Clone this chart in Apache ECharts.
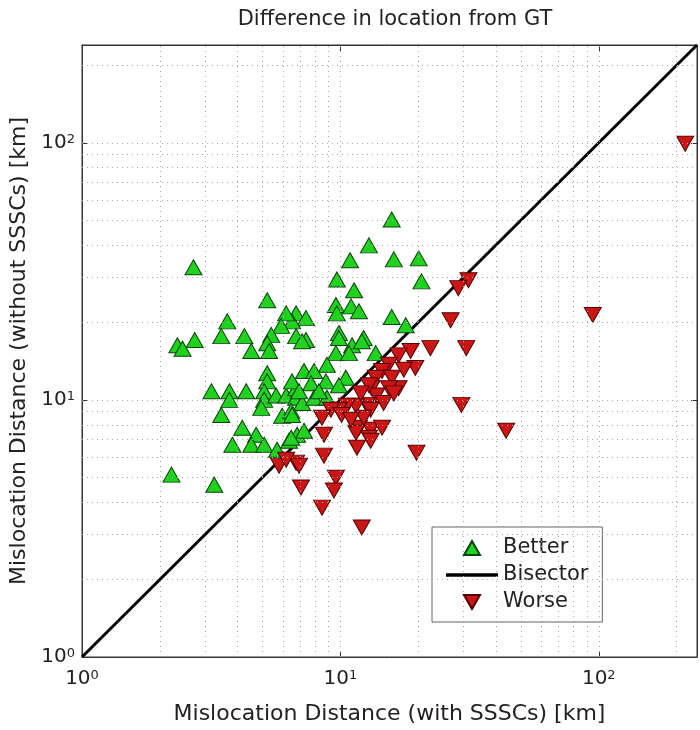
<!DOCTYPE html>
<html><head><meta charset="utf-8">
<script src="https://cdn.jsdelivr.net/npm/echarts@6/dist/echarts.min.js"></script>
<style>html,body{margin:0;padding:0;background:#fff}#c{width:700px;height:730px}</style>
</head><body><div id="c"></div>
<script>
// ---- data (km) ----
const betterX = [2.70,15.8,12.9,10.9,16.1,20.1,9.69,20.6,11.3,9.61,11.0,11.8,9.69,15.8,17.9,9.87,12.3,11.1,6.74,7.36,
  6.50,6.74,7.36,5.21,3.65,6.17,5.90,3.46,2.73,2.34,4.25,5.40,5.21,4.52,5.30,2.45,5.21,5.21,7.23,3.17,
  3.72,4.32,3.72,5.07,5.07,4.94,5.64,6.17,6.74,6.74,7.11,3.46,5.95,6.45,4.17,4.72,3.82,4.52,5.07,5.69,
  6.33,6.80,7.23,2.22,3.25,7.11,9.87,12.1,9.61,10.8,13.7,8.87,7.91,6.50,7.70,8.79,10.5,9.87,6.92,7.91,
  8.87,6.45,6.50,8.26];
const betterY = [32.8,50.3,39.9,34.9,35.2,35.5,29.4,28.9,26.7,23.4,23.1,22.1,21.7,21.0,19.5,18.2,17.4,16.3,21.7,20.8,
  20.2,17.7,17.1,24.4,20.2,21.7,19.4,17.7,17.1,16.3,17.7,17.9,16.6,15.5,15.5,15.8,12.7,11.8,12.95,10.8,
  10.8,10.8,10.0,10.8,10.0,9.31,10.4,10.4,11.1,10.2,9.73,8.74,8.67,9.06,7.79,7.32,6.69,6.69,6.69,6.40,
  6.94,7.32,7.58,5.12,4.68,16.9,17.4,16.9,15.2,15.2,15.2,13.7,12.95,11.8,11.6,11.8,12.2,11.4,10.8,10.2,
  10.2,7.12,8.74,10.8];
const worseX = [216,94.8,31.3,28.6,26.7,30.7,22.3,29.4,43.8,18.7,19.5,16.8,15.4,14.5,13.7,15.8,16.8,15.4,13.2,13.8,
  12.65,14.7,11.5,10.6,9.87,9.19,8.49,10.1,13.1,11.8,13.1,14.5,11.5,12.9,8.64,11.6,8.64,19.7,6.74,9.61,
  9.44,8.49,12.1,7.04,5.79,6.17,6.92,13.1,17.6,16.1,12.3,11.0,12.9,12.0];
const worseY = [99.1,21.4,29.2,27.2,20.4,15.9,15.9,9.56,7.58,15.5,13.3,14.9,13.7,12.95,12.2,12.2,11.1,11.1,11.1,10.4,
  9.56,9.73,9.48,9.48,9.15,9.15,8.52,8.74,9.15,7.79,7.65,7.79,7.45,7.12,7.32,6.51,6.07,6.23,5.70,4.98,
  4.44,3.81,3.19,4.56,5.55,5.85,5.55,6.94,13.1,10.6,8.52,8.37,11.4,10.6];
const bisectorX = [1, 240];
const bisectorY = [1, 240];
const axisMin = 1, axisMax = 240;
const gridValues = [2,3,4,5,6,7,8,9,10,20,30,40,50,60,70,80,90,100,200];
const titleText = 'Difference in location from GT';
const xName = 'Mislocation Distance (with SSSCs) [km]';
const yName = 'Mislocation Distance (without SSSCs) [km]';

const F = 'DejaVu Sans';
const zip = (a, b) => a.map((v, i) => [v, b[i]]);

function powLabel(v) {
  const e = Math.log10(v), r = Math.round(e);
  if (Math.abs(e - r) > 1e-6) return '';
  return '{b|10}{s|' + r + '}';
}
const rich = {
  b: {fontSize: 20, fontFamily: F, color: '#222', verticalAlign: 'bottom'},
  s: {fontSize: 13, fontFamily: F, color: '#222', verticalAlign: 'top'}
};
const upTri = 'path://M10,0L20,17.5L0,17.5Z';
const downTri = 'path://M0,0L20,0L10,17.5Z';
const lineIcon = 'path://M0,0L46,0L46,3L0,3Z';

const baseAxis = {
  type: 'log', logBase: 10, min: axisMin, max: axisMax,
  axisLine: {show: true, lineStyle: {color: '#333', width: 1}},
  axisTick: {show: true, inside: true, length: 6, lineStyle: {color: '#333'}},
  splitLine: {show: false}
};

const chart = echarts.init(document.getElementById('c'), null, {renderer: 'canvas'});
chart.setOption({
  animation: false,
  backgroundColor: '#fff',
  title: {text: titleText, left: 390, textAlign: 'center', top: 4,
    textStyle: {fontFamily: F, fontSize: 21, fontWeight: 'normal', color: '#222'}},
  grid: {left: 82, top: 45, width: 616, height: 615, show: true, borderColor: '#333', borderWidth: 1},
  legend: {
    orient: 'vertical', left: 432, top: 527,
    data: [
      {name: 'Better', icon: upTri},
      {name: 'Bisector', icon: lineIcon, itemStyle: {color: '#000'}},
      {name: 'Worse', icon: downTri}
    ],
    symbolKeepAspect: true,
    backgroundColor: '#fff', borderColor: '#666', borderWidth: 1,
    padding: [10, 14, 9, 14], itemGap: 5, itemWidth: 52, itemHeight: 14,
    textStyle: {fontFamily: F, fontSize: 21, color: '#222', lineHeight: 22}
  },
  xAxis: [
    Object.assign({}, baseAxis, {position: 'bottom', name: xName, nameLocation: 'middle', nameGap: 46,
      nameTextStyle: {fontFamily: F, fontSize: 22, color: '#222'},
      axisLabel: {formatter: powLabel, rich: rich, margin: 12}}),
    Object.assign({}, baseAxis, {position: 'top', axisLabel: {show: false}})
  ],
  yAxis: [
    Object.assign({}, baseAxis, {position: 'left', name: yName, nameLocation: 'middle', nameGap: 46,
      nameTextStyle: {fontFamily: F, fontSize: 22, color: '#222'},
      axisLabel: {formatter: powLabel, rich: rich, margin: 7}}),
    Object.assign({}, baseAxis, {position: 'right', axisLabel: {show: false}})
  ],
  series: [
    {
      name: 'grid', type: 'line', data: [], silent: true, z: 1,
      markLine: {
        silent: true, symbol: ['none', 'none'], label: {show: false}, animation: false,
        lineStyle: {color: '#a8a8a8', type: [1, 4], width: 1},
        data: gridValues.map(v => ({xAxis: v})).concat(gridValues.map(v => ({yAxis: v})))
      }
    },
    {
      name: 'Better', type: 'scatter', data: zip(betterX, betterY), z: 3,
      symbol: upTri, symbolSize: [17, 15],
      itemStyle: {color: '#1ed21e', borderColor: '#0a430a', borderWidth: 1, opacity: 1}
    },
    {
      name: 'Bisector', type: 'line', data: zip(bisectorX, bisectorY), z: 2,
      symbol: 'none', showSymbol: false,
      lineStyle: {color: '#000', width: 3}, itemStyle: {color: '#000'}
    },
    {
      name: 'Worse', type: 'scatter', data: zip(worseX, worseY), z: 4,
      symbol: downTri, symbolSize: [17, 15],
      itemStyle: {color: '#cc1616', borderColor: '#520000', borderWidth: 1, opacity: 1}
    }
  ]
});
</script>
</body></html>
